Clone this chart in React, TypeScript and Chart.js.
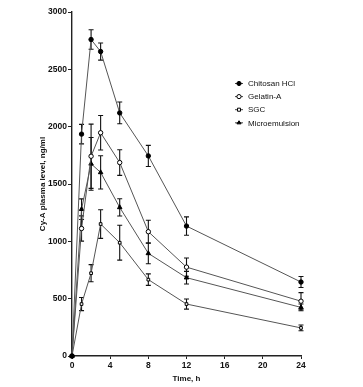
import React, { useEffect, useRef } from 'react';
import { Chart, registerables } from 'chart.js';

Chart.register(...registerables);

const times = [0, 1, 2, 3, 5, 8, 12, 24];

const chitosan = [0, 1935, 2760, 2655, 2120, 1745, 1133, 645];
const chitosanErr = [0, 85, 85, 75, 95, 92, 80, 48];

const gelatin = [0, 1112, 1742, 1947, 1687, 1084, 775, 478];
const gelatinErr = [0, 110, 280, 150, 112, 100, 80, 75];

const sgc = [0, 453, 722, 1151, 988, 666, 453, 245];
const sgcErr = [0, 57, 75, 125, 152, 50, 44, 25];

const micro = [0, 1280, 1676, 1601, 1296, 895, 683, 424];
const microErr = [0, 90, 230, 145, 75, 90, 55, 30];

const seriesLabels = ['Chitosan HCl', 'Gelatin-A', 'SGC', 'Microemulsion'];
const xTickValues = [0, 4, 8, 12, 16, 20, 24];
const yTickValues = [0, 500, 1000, 1500, 2000, 2500, 3000];

const FONT = '"Liberation Sans", Arial, Helvetica, sans-serif';

function drawMarker(ctx: CanvasRenderingContext2D, style: string, filled: boolean, x: number, y: number, r: number) {
  ctx.beginPath();
  if (style === 'circle') {
    ctx.arc(x, y, r, 0, Math.PI * 2);
  } else if (style === 'rect') {
    ctx.rect(x - r * 0.85, y - r * 0.85, r * 1.7, r * 1.7);
  } else {
    const h = r * 1.5;
    ctx.moveTo(x, y - h * 0.66);
    ctx.lineTo(x + r, y + h * 0.34);
    ctx.lineTo(x - r, y + h * 0.34);
    ctx.closePath();
  }
  ctx.fillStyle = filled ? '#000' : '#fff';
  ctx.fill();
  ctx.strokeStyle = '#000';
  ctx.lineWidth = 1;
  ctx.stroke();
}

const errorBarPlugin = {
  id: 'errorBars',
  beforeDatasetsDraw(chart: any) {
    const { ctx, scales } = chart;
    const xs = scales.x;
    const ys = scales.y;
    ctx.save();
    ctx.strokeStyle = '#111';
    ctx.lineWidth = 1.1;
    chart.data.datasets.forEach((ds: any) => {
      const errs: number[] = ds.errors;
      ds.data.forEach((p: any, i: number) => {
        const e = errs[i];
        if (!e) return;
        const px = xs.getPixelForValue(p.x);
        const top = ys.getPixelForValue(p.y + e);
        const bot = ys.getPixelForValue(p.y - e);
        ctx.beginPath();
        ctx.moveTo(px, top);
        ctx.lineTo(px, bot);
        ctx.moveTo(px - 2.5, top);
        ctx.lineTo(px + 2.5, top);
        ctx.moveTo(px - 2.5, bot);
        ctx.lineTo(px + 2.5, bot);
        ctx.stroke();
      });
    });
    ctx.restore();
  },
};

const legendPlugin = {
  id: 'insideLegend',
  afterDraw(chart: any) {
    const { ctx } = chart;
    const x0 = 235;
    const y0 = 83.5;
    const step = 13.1;
    ctx.save();
    chart.data.datasets.forEach((ds: any, i: number) => {
      const y = y0 + i * step;
      ctx.strokeStyle = '#444';
      ctx.lineWidth = 1;
      ctx.beginPath();
      ctx.moveTo(x0, y);
      ctx.lineTo(x0 + 8, y);
      ctx.stroke();
      drawMarker(ctx, ds.pointStyle, ds.pointBackgroundColor === '#000', x0 + 4, y, ds.pointStyle === 'rect' ? 1.8 : 2.1);
      ctx.fillStyle = '#111';
      ctx.font = `8px ${FONT}`;
      ctx.textAlign = 'left';
      ctx.textBaseline = 'middle';
      ctx.fillText(ds.label, x0 + 13, y + 0.5);
    });
    ctx.restore();
  },
};

function mk(values: number[]) {
  return times.map((t, i) => ({ x: t, y: values[i] }));
}

export default function App() {
  const ref = useRef<HTMLCanvasElement>(null);

  useEffect(() => {
    const canvas = ref.current;
    if (!canvas) return;
    const common = {
      borderColor: '#555',
      borderWidth: 1,
      pointBorderColor: '#000',
      pointBorderWidth: 1,
      showLine: true,
      clip: false,
      tension: 0,
    };
    const chart = new Chart(canvas, {
      type: 'scatter',
      data: {
        datasets: [
          { ...common, label: seriesLabels[0], data: mk(chitosan), errors: chitosanErr, pointStyle: 'circle', pointRadius: 2.2, pointBackgroundColor: '#000' },
          { ...common, label: seriesLabels[1], data: mk(gelatin), errors: gelatinErr, pointStyle: 'circle', pointRadius: 2.2, pointBackgroundColor: '#fff' },
          { ...common, label: seriesLabels[2], data: mk(sgc), errors: sgcErr, pointStyle: 'rect', pointRadius: 1.9, pointBackgroundColor: '#fff' },
          { ...common, label: seriesLabels[3], data: mk(micro), errors: microErr, pointStyle: 'triangle', pointRadius: 2.6, pointBackgroundColor: '#000' },
        ] as any,
      },
      options: {
        animation: false,
        responsive: false,
        maintainAspectRatio: false,
        layout: { padding: { left: 0, right: 62, top: 12, bottom: 0 } },
        plugins: { legend: { display: false }, tooltip: { enabled: false } },
        scales: {
          x: {
            type: 'linear',
            min: 0,
            max: 24,
            afterFit: (s: any) => { s.height = 31; },
            afterBuildTicks: (s: any) => { s.ticks = xTickValues.map((v) => ({ value: v })); },
            grid: { display: true, drawOnChartArea: false, drawTicks: true, tickLength: 3, tickColor: '#222', tickWidth: 1 },
            border: { display: true, color: '#222', width: 1.4 },
            ticks: { color: '#111', padding: 2, font: { family: FONT, size: 8.5, weight: 'bold' }, maxRotation: 0, callback: (v: any) => String(v) },
            title: { display: true, text: 'Time, h', color: '#111', font: { family: FONT, size: 8, weight: 'bold' }, padding: { top: 0, bottom: 3.5 } },
          },
          y: {
            type: 'linear',
            min: 0,
            max: 3000,
            afterFit: (s: any) => { s.width = 72; },
            afterBuildTicks: (s: any) => { s.ticks = yTickValues.map((v) => ({ value: v })); },
            grid: { display: true, drawOnChartArea: false, drawTicks: true, tickLength: 4, tickColor: '#222', tickWidth: 1 },
            border: { display: true, color: '#222', width: 1.4 },
            ticks: { color: '#111', padding: 1, font: { family: FONT, size: 8.5, weight: 'bold' }, callback: (v: any) => String(v) },
            title: { display: true, text: 'Cy-A plasma level, ng/ml', color: '#111', font: { family: FONT, size: 8, weight: 'bold' }, padding: { top: 38, bottom: 0 } },
          },
        },
      } as any,
      plugins: [errorBarPlugin, legendPlugin],
    });
    return () => chart.destroy();
  }, []);

  return (
    <div style={{ position: 'fixed', left: 0, top: 0, width: 363, height: 387, background: '#fff' }}>
      <canvas ref={ref} width={363} height={387} style={{ display: 'block', width: 363, height: 387 }} />
    </div>
  );
}
